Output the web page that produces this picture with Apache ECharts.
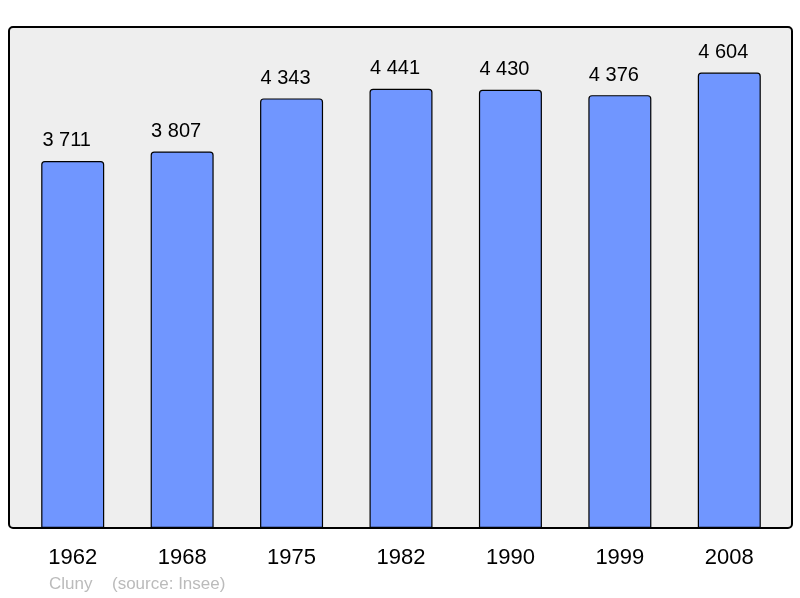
<!DOCTYPE html>
<html>
<head>
<meta charset="utf-8">
<script src="https://cdn.jsdelivr.net/npm/echarts@6/dist/echarts.min.js"></script>
<style>
  html, body { margin: 0; padding: 0; background: #fff; }
  #chart { width: 800px; height: 598px; }
</style>
</head>
<body>
<div id="chart"></div>
<script>
const years = ['1962', '1968', '1975', '1982', '1990', '1999', '2008']
const population = [3711, 3807, 4343, 4441, 4430, 4376, 4604]
const place = 'Cluny'
const source = '(source: Insee)'

const fmt = v => String(v).replace(/\B(?=(\d{3})+(?!\d))/g, ' ')

const chart = echarts.init(document.getElementById('chart'))

chart.setOption({
  animation: false,
  grid: { left: 18, right: 16, top: 27, bottom: 70 },
  graphic: [
    {
      type: 'rect',
      z: 0,
      shape: { x: 9, y: 27, width: 783, height: 501, r: 4 },
      style: { fill: '#eeeeee', stroke: '#000', lineWidth: 2 }
    },
    {
      type: 'text',
      left: 49, top: 576,
      style: { text: place, fill: '#bbbbbb', font: '17px "Liberation Sans", Arial, sans-serif' }
    },
    {
      type: 'text',
      left: 112, top: 576,
      style: { text: source, fill: '#bbbbbb', font: '17px "Liberation Sans", Arial, sans-serif' }
    }
  ],
  xAxis: {
    type: 'category',
    data: years,
    axisLine: { show: false },
    axisTick: { show: false },
    axisLabel: {
      margin: 19,
      color: '#000',
      fontSize: 22,
      fontFamily: '"Liberation Sans", Arial, sans-serif'
    }
  },
  yAxis: {
    type: 'value',
    min: 0,
    max: 5065,
    show: false,
    splitLine: { show: false }
  },
  series: [{
    type: 'bar',
    z: 2,
    data: population,
    barWidth: 63,
    itemStyle: {
      color: '#7096ff',
      borderColor: '#000',
      borderWidth: 1.2,
      borderRadius: [3, 3, 0, 0]
    },
    label: {
      show: true,
      position: 'top',
      distance: 10,
      offset: [-6, 0],
      color: '#000',
      fontSize: 20,
      fontFamily: '"Liberation Sans", Arial, sans-serif',
      formatter: p => fmt(p.value)
    }
  }]
})
</script>
</body>
</html>
